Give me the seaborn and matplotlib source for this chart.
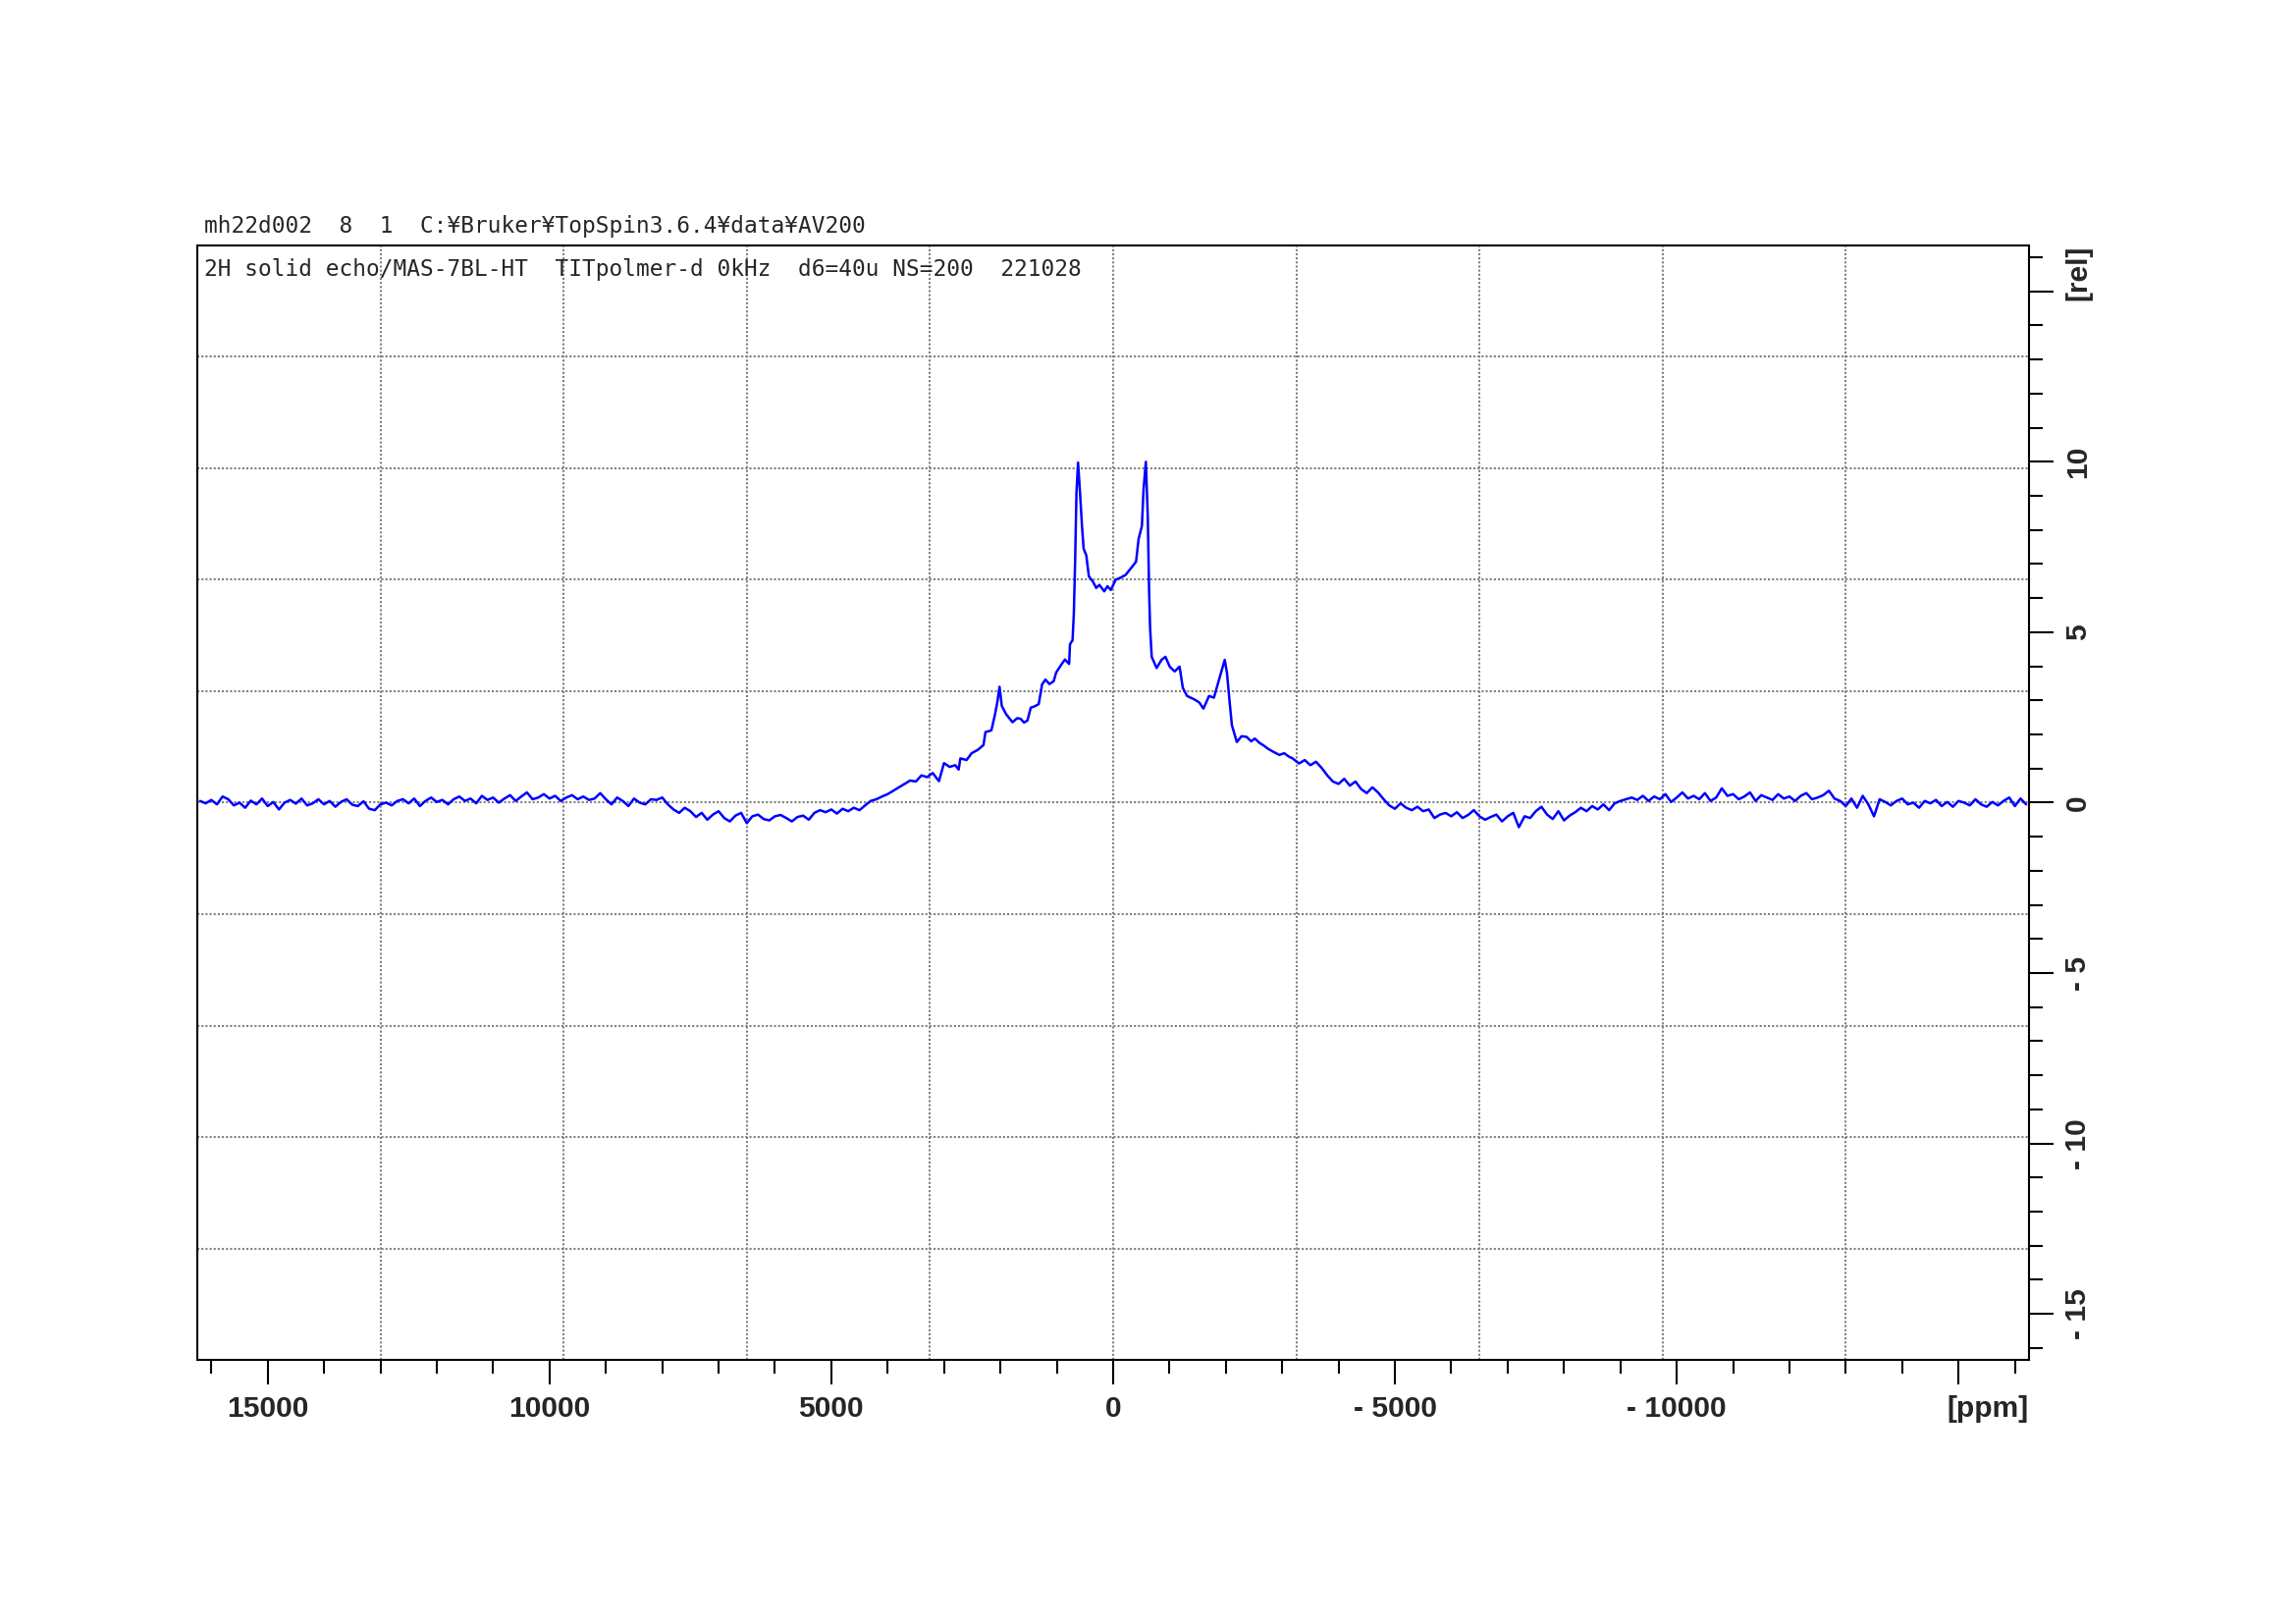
import numpy as np
import pandas as pd
import matplotlib
matplotlib.use("Agg")
import matplotlib.pyplot as plt
import seaborn as sns
from matplotlib.ticker import MultipleLocator, FixedLocator, FuncFormatter

# ------------------------------------------------------------------
# spectrum (2H solid echo, ppm vs rel. intensity)
# ------------------------------------------------------------------
BASE_STEP = 100  # ppm spacing used for the flat baseline parts

# 16200 ... 3300 ppm
left_vals = [
    0.05, -0.02, 0.08, -0.05, 0.18, 0.10, -0.08, 0.00, -0.15, 0.06,
    -0.05, 0.12, -0.10, 0.02, -0.20, 0.00, 0.08, -0.03, 0.12, -0.08,
    -0.02, 0.10, -0.05, 0.05, -0.12, 0.02, 0.10, -0.06, -0.10, 0.04,
    -0.18, -0.22,
    -0.05, 0.00, -0.08, 0.05, 0.10, -0.02, 0.12, -0.10, 0.05, 0.15,
    0.02, 0.08, -0.05, 0.10, 0.18, 0.05, 0.12, -0.02, 0.20, 0.08,
    0.15, 0.00, 0.12, 0.22, 0.05, 0.18, 0.30, 0.10, 0.15, 0.25,
    0.12, 0.20, 0.05, 0.15, 0.22, 0.10, 0.18, 0.08, 0.12, 0.28,
    0.10, -0.05, 0.15, 0.05, -0.10, 0.12, 0.00, -0.05, 0.10, 0.08, 0.15,
    -0.05, -0.20, -0.30, -0.15, -0.25,
    -0.42, -0.30, -0.50, -0.35, -0.25, -0.45, -0.55, -0.38, -0.30, -0.60,
    -0.40, -0.35, -0.48, -0.52, -0.40, -0.36, -0.45, -0.55, -0.42, -0.38, -0.50,
    -0.30, -0.22, -0.28, -0.20, -0.32, -0.18, -0.25, -0.15, -0.22,
    -0.08, 0.05, 0.10, 0.18, 0.25, 0.35, 0.45, 0.55, 0.65, 0.62, 0.80, 0.75,
]

# central powder pattern (horns at about +/-600 ppm)
center_ppm = [
    3200, 3090, 3000, 2900, 2800, 2740, 2710, 2600, 2510, 2400,
    2300, 2265, 2160, 2100, 2055, 2015, 1975, 1900, 1785, 1700,
    1640, 1580, 1520, 1460, 1400, 1320, 1260, 1200, 1130, 1055,
    1010, 910, 855, 780, 765, 720, 697, 674, 650, 622,
    592, 552, 523, 476, 430, 360, 300, 244, 157, 100,
    41, -46, -130, -221, -337, -407, -453, -511, -540, -581,
    -615, -639, -656, -685, -772, -859, -929, -1005, -1092, -1179,
    -1237, -1312, -1441, -1528, -1603, -1702, -1789, -1847, -1904, -1981,
    -2021, -2068, -2108, -2195, -2280, -2369, -2450, -2514, -2600, -2660,
    -2750, -2834, -2950, -3036, -3120, -3183,
]
center_vals = [
    0.87, 0.63, 1.16, 1.05, 1.10, 0.97, 1.30, 1.25, 1.45, 1.55,
    1.69, 2.07, 2.12, 2.55, 2.94, 3.40, 2.84, 2.60, 2.36, 2.48,
    2.46, 2.35, 2.41, 2.79, 2.82, 2.89, 3.47, 3.61, 3.48, 3.56,
    3.82, 4.07, 4.20, 4.07, 4.65, 4.76, 5.53, 7.07, 9.09, 9.98,
    9.23, 8.12, 7.45, 7.26, 6.64, 6.49, 6.30, 6.39, 6.20, 6.35,
    6.24, 6.54, 6.60, 6.68, 6.92, 7.07, 7.74, 8.12, 9.18, 10.00,
    8.41, 6.20, 5.15, 4.28, 3.95, 4.19, 4.28, 3.99, 3.85, 3.99,
    3.37, 3.13, 3.03, 2.94, 2.76, 3.13, 3.08, 3.42, 3.75, 4.19,
    3.80, 2.94, 2.27, 1.78, 1.95, 1.93, 1.80, 1.88, 1.75, 1.69,
    1.58, 1.50, 1.40, 1.45, 1.35, 1.30,
]

# -3300 ... -16200 ppm
right_vals = [
    1.15, 1.25, 1.10, 1.20, 1.02,
    0.80, 0.62, 0.55, 0.70, 0.50,
    0.62, 0.40, 0.28, 0.45, 0.30,
    0.10, -0.08, -0.18, -0.02, -0.15,
    -0.22, -0.12, -0.25, -0.20, -0.45,
    -0.35, -0.30, -0.40, -0.28, -0.45, -0.36, -0.22, -0.40, -0.50, -0.42,
    -0.35, -0.55, -0.40, -0.30, -0.72,
    -0.40, -0.45, -0.25, -0.12, -0.35, -0.48, -0.25, -0.52,
    -0.38, -0.28, -0.15, -0.25, -0.10, -0.20, -0.05, -0.22, -0.02, 0.05,
    0.10, 0.15, 0.08, 0.20, 0.05, 0.18, 0.10, 0.25, 0.02, 0.15,
    0.30, 0.12, 0.20, 0.10, 0.28, 0.05, 0.15, 0.42, 0.20, 0.25,
    0.10, 0.18, 0.30, 0.05, 0.22, 0.15, 0.08, 0.25, 0.12, 0.18,
    0.05, 0.20, 0.28, 0.10, 0.15, 0.22, 0.35, 0.12,
    0.05, -0.10, 0.12, -0.15, 0.20, -0.05, -0.40,
    0.10, 0.02, -0.08, 0.05, 0.12, -0.05, 0.00, -0.15, 0.05, -0.02,
    0.08, -0.10, 0.02, -0.12, 0.05, 0.00, -0.08, 0.10, -0.05, -0.12,
    0.02, -0.08, 0.05, 0.15, -0.10, 0.12, -0.05,
]

left_ppm = np.arange(16200, 3300 - 1, -BASE_STEP)
right_ppm = np.arange(-3300, -16200 - 1, -BASE_STEP)

X_TICKS = [15000, 10000, 5000, 0, -5000, -10000, -15000]
Y_TICKS = [15, 10, 5, 0, -5, -10, -15]
XLIM = (16250, -16250)
YLIM = (-16.35, 16.35)

HEADER_1 = "mh22d002  8  1  C:¥Bruker¥TopSpin3.6.4¥data¥AV200"
HEADER_2 = "2H solid echo/MAS-7BL-HT  TITpolmer-d 0kHz  d6=40u NS=200  221028"

df = pd.DataFrame({
    "ppm": np.concatenate([left_ppm, center_ppm, right_ppm]),
    "rel": np.concatenate([left_vals, center_vals, right_vals]),
})

# ------------------------------------------------------------------
sns.set_style("ticks")
plt.rcParams["font.family"] = ["Liberation Sans", "DejaVu Sans"]

fig = plt.figure(figsize=(2339 / 200, 1654 / 200), dpi=200)
ax = fig.add_axes([0.0859, 0.1626, 0.7978, 0.6863])

# Bruker style dotted grid: 10 x 10 divisions of the frame
for gx in np.linspace(XLIM[0], XLIM[1], 11)[1:-1]:
    ax.axvline(gx, color="#808080", lw=0.75, ls=(0, (1, 1)), zorder=0)
for gy in np.linspace(YLIM[0], YLIM[1], 11)[1:-1]:
    ax.axhline(gy, color="#808080", lw=0.75, ls=(0, (1, 1)), zorder=0)

sns.lineplot(data=df, x="ppm", y="rel", ax=ax, color="#0000ff",
             linewidth=0.9, sort=False, estimator=None, zorder=2)

ax.set_xlim(*XLIM)
ax.set_ylim(*YLIM)
ax.set_xlabel("")
ax.set_ylabel("")


def fmt_x(v, pos):
    if v == X_TICKS[-1]:
        return ""
    return f"- {abs(int(v))}" if v < 0 else f"{int(v)}"


def fmt_y(v, pos):
    if v == Y_TICKS[0]:
        return ""
    return f"- {abs(int(v))}" if v < 0 else f"{int(v)}"


ax.xaxis.set_major_locator(FixedLocator(X_TICKS))
ax.xaxis.set_minor_locator(MultipleLocator(1000))
ax.xaxis.set_major_formatter(FuncFormatter(fmt_x))
ax.yaxis.set_major_locator(FixedLocator(Y_TICKS))
ax.yaxis.set_minor_locator(MultipleLocator(1))
ax.yaxis.set_major_formatter(FuncFormatter(fmt_y))

ax.tick_params(axis="x", which="both", direction="out", bottom=True, top=False,
               width=0.75, color="black")
ax.tick_params(axis="y", which="both", direction="out", left=False, right=True,
               labelleft=False, labelright=True, width=0.75, color="black")
ax.tick_params(which="major", length=9, pad=4)
ax.tick_params(which="minor", length=5)
ax.tick_params(axis="y", which="major", labelrotation=90)

for lab in ax.get_xticklabels() + ax.get_yticklabels():
    lab.set_fontweight("bold")
    lab.set_fontsize(10.8)
for lab in ax.get_yticklabels():
    lab.set_va("center")

for sp in ax.spines.values():
    sp.set_visible(True)
    sp.set_linewidth(0.75)
    sp.set_color("black")

# unit labels take the place of the outermost tick labels
trans_x, _, _ = ax.get_xaxis_text1_transform(9 + 4)
ax.text(XLIM[1], 0, "[ppm]", transform=trans_x, ha="right", va="top",
        fontsize=10.8, fontweight="bold")
trans_y, _, _ = ax.get_yaxis_text2_transform(9 + 4)
ax.text(1, YLIM[1], "[rel]", transform=trans_y, ha="left", va="top",
        rotation=90, fontsize=10.8, fontweight="bold")

# TopSpin header lines
fig.text(208 / 2339, 1 - 237 / 1654, HEADER_1, family=["DejaVu Sans Mono"],
         fontsize=8.2, ha="left", va="baseline")
fig.text(208 / 2339, 1 - 281 / 1654, HEADER_2, family=["DejaVu Sans Mono"],
         fontsize=8.2, ha="left", va="baseline")

fig.savefig("out.png", dpi=200)
plt.close(fig)
